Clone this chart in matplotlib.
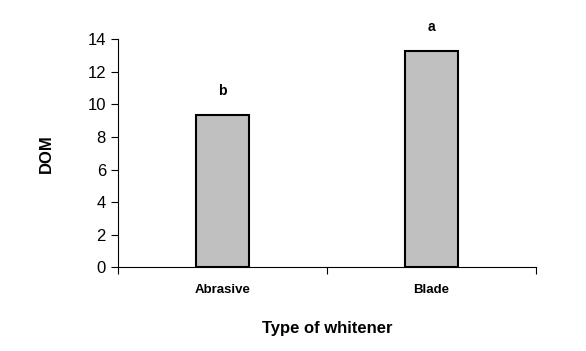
import matplotlib.pyplot as plt
import numpy as np

plt.rcParams['font.family'] = ['Liberation Sans', 'DejaVu Sans']

categories = ["Abrasive", "Blade"]
dom = [9.35, 13.28]
letters = ["b", "a"]

fig = plt.figure(figsize=(5.86, 3.51), dpi=100)
ax = fig.add_axes([0.2009, 0.2385, 0.7138, 0.6495])

x = np.arange(len(categories))
ax.bar(x, dom, width=0.255, color="#c0c0c0", edgecolor="black", linewidth=1.5, zorder=2)

for xi, v, l in zip(x, dom, letters):
    ax.annotate(l, (xi, v), xytext=(0, 12), textcoords="offset points",
                ha="center", va="bottom", fontsize=10, fontweight="bold")

ax.set_xlim(-0.5, len(categories) - 0.5)
ax.set_ylim(0, 14)
ax.set_yticks(range(0, 15, 2))
ax.set_xticks(x)
ax.set_xticklabels(categories, fontsize=9.5, fontweight="bold")
ax.set_xticks(np.arange(-0.5, len(categories), 1), minor=True)
ax.tick_params(axis="x", which="major", length=0, pad=12)
ax.tick_params(axis="x", which="minor", length=5, width=0.8, direction="out")
ax.tick_params(axis="y", labelsize=12, length=5, width=0.8, direction="out")

for s in ["top", "right"]:
    ax.spines[s].set_visible(False)
for s in ["left", "bottom"]:
    ax.spines[s].set_linewidth(0.8)

ax.set_xlabel("Type of whitener", fontsize=12, fontweight="bold", labelpad=18)
ax.set_ylabel("DOM", fontsize=12, fontweight="bold", labelpad=24)

fig.savefig("out.png", dpi=100)
